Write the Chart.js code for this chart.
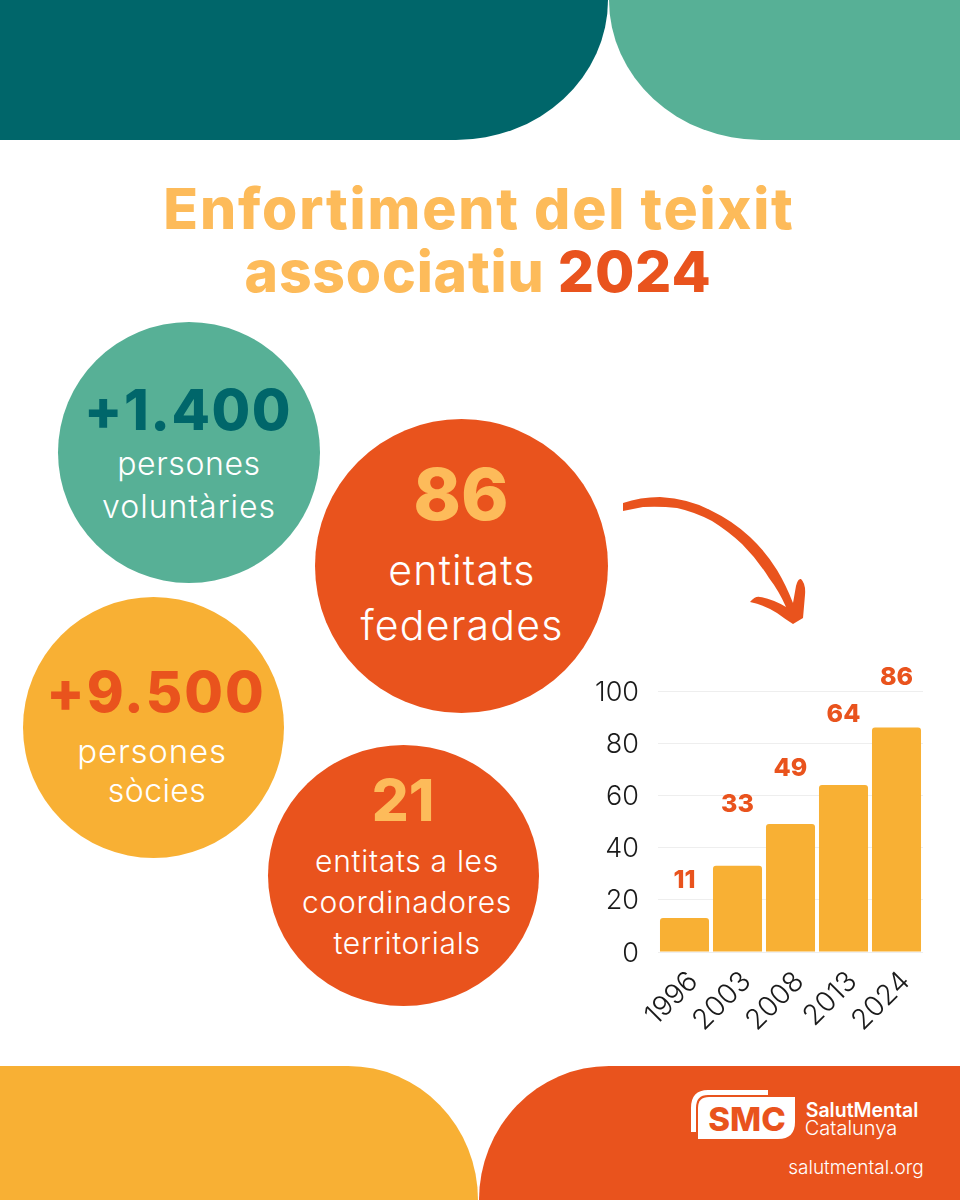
<!DOCTYPE html>
<html lang="ca">
<head>
<meta charset="utf-8">
<title>Enfortiment del teixit associatiu 2024</title>
<script src="https://cdn.jsdelivr.net/npm/chart.js@4"></script>
<style>
  html, body { margin: 0; padding: 0; background: #fff; }
  #page { position: relative; width: 960px; height: 1200px; overflow: hidden; font-family: Inter, "Open Sans", sans-serif; color: #fff; }
  .shape { position: absolute; }
  .circle { position: absolute; border-radius: 50%; }
  .t { position: absolute; transform: translate(-50%, -50%); white-space: nowrap; text-align: center; }
  .big { font-weight: 800; }
  .light { font-weight: 300; }
  #chart-box { position: absolute; left: 580px; top: 650px; width: 350px; height: 390px; }
  svg { position: absolute; left: 0; top: 0; }
</style>
</head>
<body>
<div id="page">
  <div class="shape" style="left:0;top:0;width:608px;height:140px;background:#00666a;border-bottom-right-radius:152px 140px"></div>
  <div class="shape" style="left:609px;top:0;width:351px;height:140px;background:#57b096;border-bottom-left-radius:152px 140px"></div>
  <div class="shape" style="left:0;top:1066px;width:478px;height:134px;background:#f8b034;border-top-right-radius:130px 134px"></div>
  <div class="shape" style="left:479px;top:1066px;width:481px;height:134px;background:#e9531d;border-top-left-radius:130px 134px"></div>

  <div class="t big" style="left:479px;top:208px;font-size:57px;color:#fdbb5a;letter-spacing:1.8px">Enfortiment del teixit</div>
  <div class="t big" style="left:478px;top:271px;font-size:57px;color:#fdbb5a;letter-spacing:0.8px">associatiu <span style="color:#e9531d">2024</span></div>

  <div class="circle" style="left:58px;top:322px;width:262px;height:261px;background:#57b096"></div>
  <div class="circle" style="left:315px;top:419px;width:293px;height:294px;background:#e9531d"></div>
  <div class="circle" style="left:23px;top:597px;width:261px;height:261px;background:#f8b034"></div>
  <div class="circle" style="left:268px;top:745px;width:271px;height:261px;background:#e9531d"></div>

  <div class="t big" style="left:188px;top:410px;font-size:56px;letter-spacing:1.5px;color:#00666a">+1.400</div>
  <div class="t light" style="left:189px;top:463px;font-size:32px;letter-spacing:0.6px">persones</div>
  <div class="t light" style="left:189px;top:506px;font-size:32px;letter-spacing:1px">voluntàries</div>

  <div class="t big" style="left:461px;top:493px;font-size:72px;color:#fdbb5a">86</div>
  <div class="t light" style="left:462px;top:570px;font-size:41px;letter-spacing:1.2px">entitats</div>
  <div class="t light" style="left:462px;top:625px;font-size:41px;letter-spacing:1.2px">federades</div>

  <div class="t big" style="left:156px;top:692px;font-size:56px;letter-spacing:2px;color:#e9531d">+9.500</div>
  <div class="t light" style="left:152px;top:751px;font-size:33px;letter-spacing:0.8px">persones</div>
  <div class="t light" style="left:157px;top:790px;font-size:32px;letter-spacing:0.4px">sòcies</div>

  <div class="t big" style="left:403px;top:800px;font-size:58px;color:#fdbb5a">21</div>
  <div class="t light" style="left:407px;top:861px;font-size:30px;letter-spacing:0.7px">entitats a les</div>
  <div class="t light" style="left:407px;top:902px;font-size:30px;letter-spacing:0.7px">coordinadores</div>
  <div class="t light" style="left:407px;top:943px;font-size:30px;letter-spacing:0.7px">territorials</div>

  <svg width="960" height="1200" viewBox="0 0 960 1200">
    <path fill="#e9531d" d="M623 503 Q640 497 660 497 Q690 499 710 510 Q733 521 750 537 Q766 552 777 570 Q786 585 793 603 L796 586 Q798 578 801 579 Q806 584 805 595 L803 618 L793 624 Q785 619 777 613 Q764 605 750 602 Q755 596 760 597 Q772 599 786 607 Q779 591 769 578 Q757 559 742 544 Q728 531 712 521 Q695 512 677 508 Q660 506 643 507 L623 511 Z"/>
    <path fill="none" stroke="#fff" stroke-width="5" d="M693.5 1132 V1108 Q693.5 1092.5 708 1092.5 H768"/>
    <path fill="#fff" d="M698 1139 V1108 Q698 1097 709 1097 H795 V1122 Q795 1139 778 1139 Z"/>
    <text x="747" y="1131" text-anchor="middle" font-family="Inter, sans-serif" font-weight="800" font-size="33" fill="#e9531d">SMC</text>
  </svg>
  <div class="t" style="left:862px;top:1110px;font-size:19.5px;font-weight:600">SalutMental</div>
  <div class="t light" style="left:851px;top:1128px;font-size:20px">Catalunya</div>
  <div class="t" style="left:856px;top:1167px;font-size:19px;font-weight:300">salutmental.org</div>

  <div id="chart-box"><canvas id="barChart"></canvas></div>
</div>
<script>
const years = ['1996', '2003', '2008', '2013', '2024'];
const barValues = [13, 33, 49, 64, 86];
const barLabels = ['11', '33', '49', '64', '86'];
const yTicks = [0, 20, 40, 60, 80, 100];

// numbers float at uneven heights over the bars in the original
const labelLift = [38, 61, 56, 70, 50];

const floatingLabels = {
  id: 'floatingLabels',
  afterDatasetsDraw(chart) {
    const ctx = chart.ctx;
    const bars = chart.getDatasetMeta(0).data;
    ctx.save();
    ctx.fillStyle = '#e9531d';
    ctx.font = '800 25px Inter, sans-serif';
    ctx.textAlign = 'center';
    ctx.textBaseline = 'middle';
    bars.forEach((bar, i) => {
      ctx.fillText(barLabels[i], bar.x, bar.y - labelLift[i]);
    });
    ctx.restore();
  }
};

new Chart(document.getElementById('barChart'), {
  type: 'bar',
  data: {
    labels: years,
    datasets: [{
      data: barValues,
      backgroundColor: '#f8b034',
      borderRadius: { topLeft: 3, topRight: 3 },
      borderSkipped: 'bottom',
      barPercentage: 0.925,
      categoryPercentage: 1
    }]
  },
  options: {
    responsive: true,
    maintainAspectRatio: false,
    animation: false,
    layout: { padding: { top: 41, right: 7, left: 0, bottom: 0 } },
    plugins: { legend: { display: false }, tooltip: { enabled: false } },
    scales: {
      x: {
        afterFit(scale) { scale.height = 88; },
        grid: { display: false },
        border: { display: false },
        ticks: {
          minRotation: 45,
          maxRotation: 45,
          labelOffset: 9,
          padding: 5,
          color: '#1a1a1a',
          font: { family: 'Inter, sans-serif', size: 28, weight: 300 }
        }
      },
      y: {
        min: 0,
        max: 100,
        afterFit(scale) { scale.width = 78; },
        afterBuildTicks(scale) { scale.ticks = yTicks.map(v => ({ value: v })); },
        grid: { color: '#eeeeee', drawTicks: false },
        border: { display: false },
        ticks: {
          padding: 19,
          labelOffset: 1.5,
          color: '#1a1a1a',
          font: { family: 'Inter, sans-serif', size: 27, weight: 300 }
        }
      }
    }
  },
  plugins: [floatingLabels]
});
</script>
</body>
</html>
